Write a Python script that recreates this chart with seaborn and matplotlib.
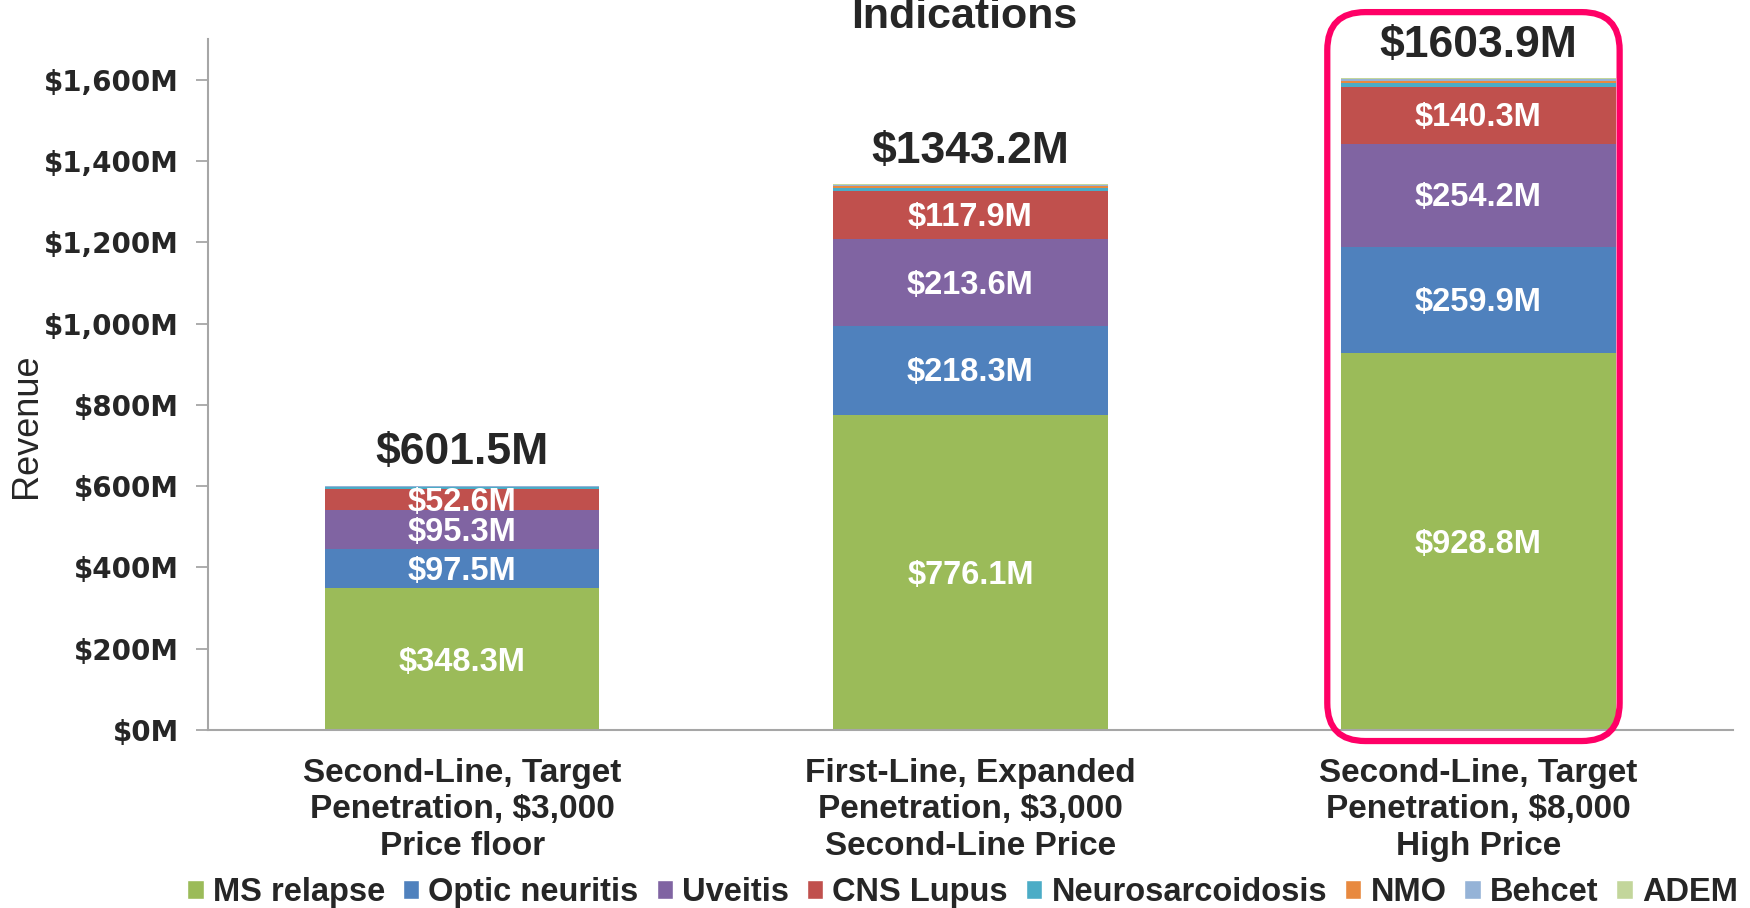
import matplotlib
matplotlib.use('Agg')
import matplotlib.pyplot as plt
from matplotlib.patches import FancyBboxPatch, Patch
import seaborn as sns
import pandas as pd

scenarios = ['Second-Line, Target\nPenetration, $3,000\nPrice floor',
             'First-Line, Expanded\nPenetration, $3,000\nSecond-Line Price',
             'Second-Line, Target\nPenetration, $8,000\nHigh Price']
indications = ['MS relapse', 'Optic neuritis', 'Uveitis', 'CNS Lupus',
               'Neurosarcoidosis', 'NMO', 'Behcet', 'ADEM']
ms_relapse = [348.3, 776.1, 928.8]
optic_neuritis = [97.5, 218.3, 259.9]
uveitis = [95.3, 213.6, 254.2]
cns_lupus = [52.6, 117.9, 140.3]
neurosarcoidosis = [3.2, 7.0, 8.2]
nmo = [2.0, 4.6, 5.3]
behcet = [1.4, 3.2, 3.9]
adem = [1.2, 2.5, 3.3]
totals = [601.5, 1343.2, 1603.9]
colors = ['#9BBB59', '#4F81BD', '#8064A2', '#C0504D',
          '#4BACC6', '#E8893F', '#95B3D7', '#C3D69B']
highlight = 2  # scenario boxed in pink

sns.set_style('white')
plt.rcParams['font.family'] = ['Liberation Sans', 'DejaVu Sans']
plt.rcParams['text.parse_math'] = False

df = pd.DataFrame(dict(zip(indications, [ms_relapse, optic_neuritis, uveitis, cns_lupus,
                                         neurosarcoidosis, nmo, behcet, adem])))
df['scenario'] = scenarios
cum = df[indications].cumsum(axis=1)

fig, ax = plt.subplots(figsize=(17.5, 9.08), dpi=100)
fig.subplots_adjust(left=0.119, right=0.990, bottom=0.196, top=0.957)

bw = 0.54
# stacked bars: draw cumulative totals from the top layer down
for name, c in reversed(list(zip(indications, colors))):
    sns.barplot(x=df['scenario'], y=cum[name], color=c, width=bw, saturation=1,
                linewidth=0, errorbar=None, ax=ax)

# segment labels for the four big layers
for name in indications[:4]:
    for i in range(len(scenarios)):
        v = df[name][i]
        ax.annotate(f"${v:.1f}M", (i, cum[name][i] - v / 2), xytext=(0, -2),
                    textcoords='offset points', ha='center', va='center',
                    color='white', fontsize=23.5, fontweight='bold')

for i, t in enumerate(totals):
    ax.annotate(f"${t:.1f}M", (i, t), xytext=(0, 9), textcoords='offset points',
                ha='center', va='bottom', fontsize=32, fontweight='bold')

ax.set_xlim(-0.5, 2.5)
ax.set_ylim(0, 1700)
ax.set_yticks(range(0, 1601, 200))
ax.set_yticklabels([f"${v:,}M" for v in range(0, 1601, 200)],
                   family='DejaVu Sans', fontweight='bold', fontsize=20)
ax.set_xticks(range(3))
ax.set_xticklabels(scenarios, fontsize=24, fontweight='bold', linespacing=1.23)
ax.set_xticks([-0.5, 0.5, 1.5, 2.5], minor=True)
ax.tick_params(axis='x', which='major', length=0, pad=20)
ax.tick_params(axis='x', which='minor', length=9, width=1.3, color='#A6A6A6', direction='out')
ax.tick_params(axis='y', length=9, width=1.3, color='#A6A6A6', direction='out', pad=12, left=True)
ax.set_xlabel('')
ax.set_ylabel('Revenue', fontsize=26)
ax.yaxis.set_label_coords(-0.108, 0.44)
sns.despine(ax=ax)
for s in ['left', 'bottom']:
    ax.spines[s].set_color('#A6A6A6')
    ax.spines[s].set_linewidth(1.5)

fig.text(0.551, 1 - 28 / 908, 'Indications', ha='center', va='baseline',
         fontsize=31, fontweight='bold')

# pink rounded box around the highlighted scenario
(x0, y0), (x1, y1) = ax.transData.transform([(highlight - bw / 2, 0),
                                             (highlight + bw / 2, totals[highlight])])
box = FancyBboxPatch((x0 - 14, y0 - 11), (x1 - x0) + 18, (y1 - y0) + 77,
                     boxstyle='round,pad=0,rounding_size=38', transform=None,
                     fill=False, edgecolor='#FF0066', linewidth=4.5, clip_on=False)
fig.add_artist(box)

handles = [Patch(facecolor=c, label=n) for n, c in zip(indications, colors)]
fig.legend(handles=handles, loc='center', bbox_to_anchor=(0.550, 0.017), ncol=8,
           frameon=False, prop=dict(weight='bold', size=23.5),
           handlelength=0.5, handleheight=0.5, handletextpad=0.28,
           columnspacing=0.55, borderaxespad=0, borderpad=0)

fig.savefig('out.png', dpi=100)
